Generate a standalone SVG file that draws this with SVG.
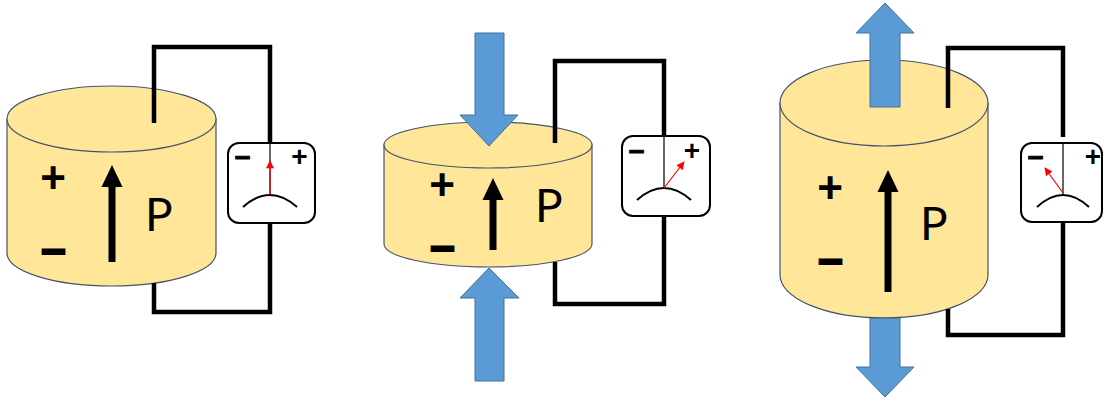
<svg xmlns="http://www.w3.org/2000/svg" width="1104" height="399" viewBox="0 0 1104 399">
  <defs>
    <style>
      .body { fill: #FFE699; stroke: #44546A; stroke-width: 1.2; }
      .force { fill: #5B9BD5; stroke: #41719C; stroke-width: 1; }
      .wire { fill: none; stroke: #000; stroke-width: 4.5; stroke-linejoin: miter; }
      .meter { fill: #fff; stroke: #000; stroke-width: 2; }
      .scale { fill: none; stroke: #000; stroke-width: 2; }
      .axis { stroke: #000; stroke-width: 1.2; }
      .needle { stroke: #FF0000; stroke-width: 1.2; marker-end: url(#redhead); }
      .pol { fill: #000; stroke: none; }
      .sign { font-family: "Liberation Sans", Arial, sans-serif; font-weight: bold; font-size: 44px; fill: #000; text-anchor: middle; }
      .neg { stroke: #000; stroke-width: 2; }
      .msign { font-family: "Liberation Sans", Arial, sans-serif; font-weight: bold; font-size: 28px; fill: #000; text-anchor: middle; }
      .mneg { stroke: #000; stroke-width: 1; }
      .label { font-family: Lato, "Open Sans", sans-serif; font-size: 46px; fill: #000; }
    </style>
    <marker id="redhead" viewBox="0 0 10 10" refX="9" refY="5" markerWidth="9" markerHeight="8" markerUnits="userSpaceOnUse" orient="auto">
      <path d="M0,0 L10,5 L0,10 Z" fill="#FF0000"/>
    </marker>
  </defs>

  <!-- Panel 1: unstressed piezo cylinder -->
  <g id="cylinder-1">
    <path class="body" d="M7,119 L7,253 A104.5,33 0 0 0 216,253 L216,119 Z"/>
    <ellipse class="body" cx="111.5" cy="119" rx="104.5" ry="33"/>
    <text class="sign" x="53" y="192.5">+</text>
    <text class="sign neg" x="53.5" y="264">–</text>
    <polygon class="pol" points="108.5,262 115.5,262 115.5,187 122.5,187 112,165 101.5,187 108.5,187"/>
    <text class="label" x="145" y="231">P</text>
  </g>

  <!-- Panel 2: compressed cylinder -->
  <g id="cylinder-2">
    <path class="body" d="M384,145 L384,244 A104,23 0 0 0 592,244 L592,145 Z"/>
    <ellipse class="body" cx="488" cy="145" rx="104" ry="23"/>
    <text class="sign" x="442" y="199.5">+</text>
    <text class="sign neg" x="442.5" y="261">–</text>
    <polygon class="pol" points="489.5,250 496.5,250 496.5,200 503.5,200 493,178 482.5,200 489.5,200"/>
    <text class="label" x="535" y="222">P</text>
  </g>
  <g id="force-2-top">
    <polygon class="force" points="475,33 504,33 504,115 518,115 489,146 460,115 475,115"/>
  </g>
  <g id="force-2-bottom">
    <polygon class="force" points="489,268 519,298 504,298 504,381 475,381 475,298 460,298"/>
  </g>

  <!-- Panel 3: stretched cylinder -->
  <g id="force-3-bottom">
    <polygon class="force" points="870,300 900,300 900,367 914,367 885,397 856,367 870,367"/>
  </g>
  <g id="cylinder-3">
    <path class="body" d="M780,103 L780,275 A104,43 0 0 0 988,275 L988,103 Z"/>
    <ellipse class="body" cx="884" cy="103" rx="104" ry="43"/>
    <text class="sign" x="830" y="202.5">+</text>
    <text class="sign neg" x="830.5" y="274">–</text>
    <polygon class="pol" points="884.5,292 891.5,292 891.5,192 898.5,192 888,170 877.5,192 884.5,192"/>
    <text class="label" x="920" y="240">P</text>
  </g>
  <g id="force-3-top">
    <polygon class="force" points="885,3 914,33 900,33 900,107 870,107 870,33 856,33"/>
  </g>

  <!-- Connecting leads -->
  <g id="connectors">
    <path class="wire" d="M154,123 L154,47 L270,47 L270,143"/>
    <path class="wire" d="M270,223 L270,312 L154,312 L154,283"/>
    <path class="wire" d="M555,143 L555,61 L664,61 L664,136"/>
    <path class="wire" d="M664,216 L664,304 L555,304 L555,262"/>
    <path class="wire" d="M948,108 L948,48 L1063,48 L1063,137"/>
    <path class="wire" d="M1063,223 L1063,335 L948,335 L948,309"/>
  </g>

  <!-- Meters -->
  <g id="meter-1">
    <rect class="meter" x="228" y="143" width="87" height="80" rx="11"/>
    <line class="axis" x1="270" y1="143" x2="270" y2="195"/>
    <path class="scale" d="M243,207 Q270,183 297,207"/>
    <line class="needle" x1="270" y1="195" x2="270" y2="161"/>
    <text class="msign mneg" x="242.5" y="164.5">–</text>
    <text class="msign" x="299.5" y="166">+</text>
  </g>
  <g id="meter-2">
    <rect class="meter" x="622" y="136" width="88" height="80" rx="11"/>
    <line class="axis" x1="664" y1="136" x2="664" y2="188"/>
    <path class="scale" d="M637,200 Q664,176 691,200"/>
    <line class="needle" x1="664" y1="188" x2="684" y2="162"/>
    <text class="msign mneg" x="636.5" y="158.5">–</text>
    <text class="msign" x="692" y="160">+</text>
  </g>
  <g id="meter-3">
    <rect class="meter" x="1021" y="143" width="81" height="79" rx="11"/>
    <line class="axis" x1="1063" y1="143" x2="1063" y2="194"/>
    <path class="scale" d="M1037,207 Q1063,183 1089,207"/>
    <line class="needle" x1="1063" y1="193" x2="1045" y2="168"/>
    <text class="msign mneg" x="1035.5" y="164.5">–</text>
    <text class="msign" x="1093" y="166">+</text>
  </g>
</svg>
